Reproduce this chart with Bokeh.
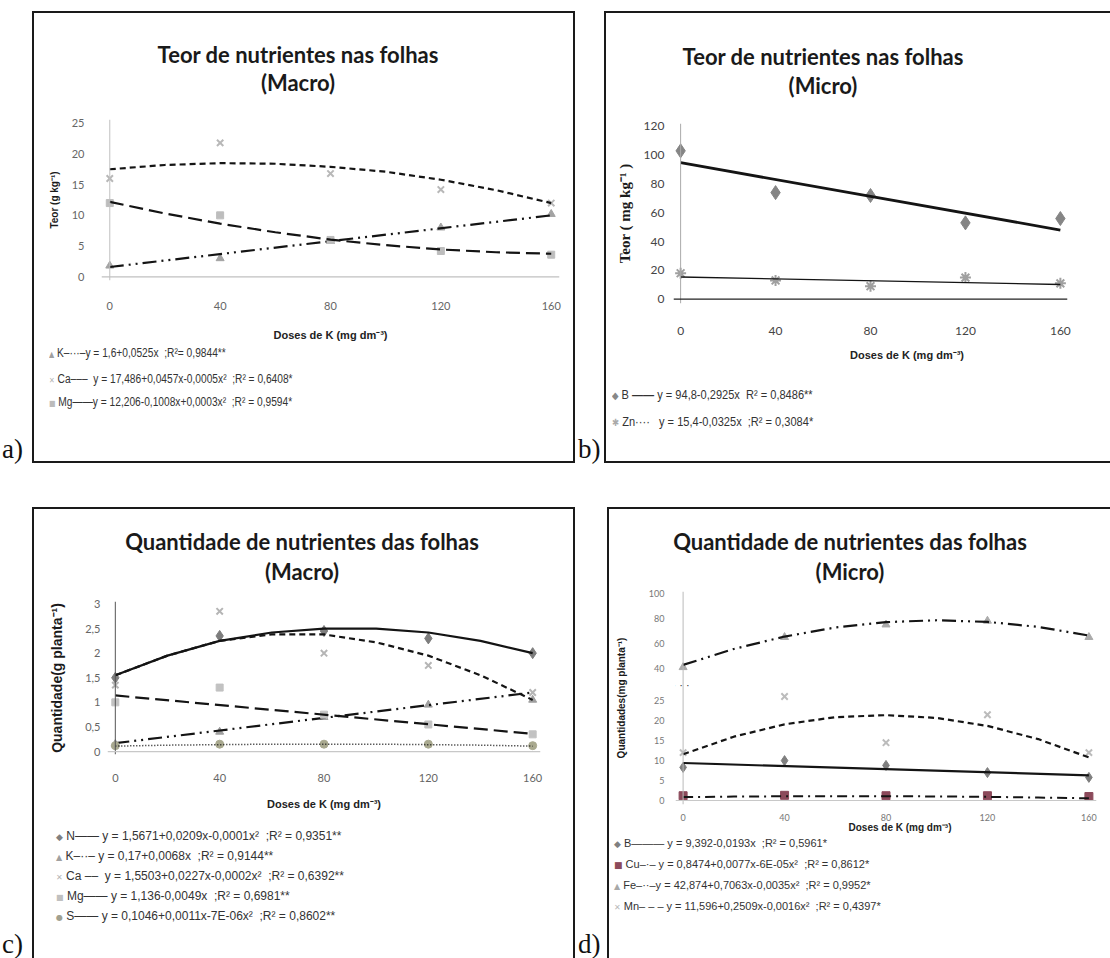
from bokeh.plotting import figure
from bokeh.layouts import row, column
from bokeh.models import (ColumnDataSource, Span, FixedTicker, Range1d, CustomJSTransform,
                          CustomJSTickFormatter, Label, Div, Spacer)
from bokeh.transform import transform
from bokeh.embed import file_html
from bokeh.resources import INLINE

# ---------------- data ----------------
doses = [0, 40, 80, 120, 160]
curve_x = [0, 20, 40, 60, 80, 100, 120, 140, 160]
line_x = [0, 160]
x_ticks = [0, 40, 80, 120, 160]

# a) Teor macro (g kg-1)
a_K = [1.8, 3.0, 5.8, 8.0, 10.2]
a_Ca = [16.0, 21.8, 16.8, 14.2, 12.0]
a_Mg = [12.0, 10.0, 6.0, 4.2, 3.6]
a_K_fit = [1.6, 10.0]
a_Ca_fit = [17.5, 18.2, 18.5, 18.4, 17.9, 17.1, 15.8, 14.1, 12.0]
a_Mg_fit = [12.2, 10.3, 8.65, 7.25, 6.05, 5.15, 4.45, 4.0, 3.75]
a_yticks = [0, 5, 10, 15, 20, 25]
a_legend = ["K\u2013\u00b7\u00b7\u00b7\u2013y = 1,6+0,0525x &nbsp;;R\u00b2= 0,9844**",
            "Ca\u2013\u2013\u2013 &nbsp;y = 17,486+0,0457x-0,0005x\u00b2 &nbsp;;R\u00b2 = 0,6408*",
            "Mg\u2014\u2014y = 12,206-0,1008x+0,0003x\u00b2 &nbsp;;R\u00b2 = 0,9594*"]

# b) Teor micro (mg kg-1)
b_B = [103, 74, 72, 53, 56]
b_Zn = [18, 13, 9, 15, 11]
b_B_fit = [94.8, 48.0]
b_Zn_fit = [15.4, 10.2]
b_yticks = [0, 20, 40, 60, 80, 100, 120]
b_legend = ["B <b>\u2014\u2014</b> y = 94,8-0,2925x &nbsp;R\u00b2 = 0,8486**",
            "Zn\u00b7\u00b7\u00b7\u00b7 &nbsp; y = 15,4-0,0325x &nbsp;;R\u00b2 = 0,3084*"]

# c) Quantidade macro (g planta-1)
c_N = [1.5, 2.35, 2.45, 2.3, 2.0]
c_K = [0.15, 0.4, 0.7, 0.95, 1.05]
c_Ca = [1.35, 2.85, 2.0, 1.75, 1.2]
c_Mg = [1.0, 1.3, 0.75, 0.55, 0.35]
c_S = [0.12, 0.15, 0.15, 0.15, 0.12]
c_N_fit = [1.55, 1.95, 2.25, 2.42, 2.5, 2.5, 2.42, 2.25, 2.0]
c_K_fit = [0.17, 1.2]
c_Ca_fit = [1.55, 1.95, 2.25, 2.38, 2.38, 2.22, 1.95, 1.55, 1.05]
c_Mg_fit = [1.14, 0.36]
c_S_fit = [0.11, 0.13, 0.14, 0.15, 0.15, 0.15, 0.14, 0.13, 0.11]
c_yticks = [0, 0.5, 1, 1.5, 2, 2.5, 3]
c_legend = ["N\u2014\u2014 y = 1,5671+0,0209x-0,0001x\u00b2 &nbsp;;R\u00b2 = 0,9351**",
            "K\u2013\u00b7\u00b7\u2013 y = 0,17+0,0068x &nbsp;;R\u00b2 = 0,9144**",
            "Ca \u2013\u2013 &nbsp;y = 1,5503+0,0227x-0,0002x\u00b2 &nbsp;;R\u00b2 = 0,6392**",
            "Mg\u2014\u2014 y = 1,136-0,0049x &nbsp;;R\u00b2 = 0,6981**",
            "S\u2014\u2014 y = 0,1046+0,0011x-7E-06x\u00b2 &nbsp;;R\u00b2 = 0,8602**"]

# d) Quantidade micro (mg planta-1)
d_B = [8.3, 10.0, 8.8, 7.0, 5.8]
d_Cu = [1.2, 1.3, 1.2, 1.2, 1.0]
d_Fe = [41, 65, 75, 78, 65]
d_Mn = [12, 27, 14.5, 21.5, 12]
d_B_fit = [9.4, 6.3]
d_Cu_fit = [0.85, 0.98, 1.06, 1.09, 1.08, 1.02, 0.91, 0.75, 0.55]
d_Fe_fit = [42.9, 55.6, 65.5, 72.7, 77.0, 78.5, 77.2, 73.2, 66.3]
d_Mn_fit = [11.6, 16.0, 19.1, 20.9, 21.4, 20.7, 18.7, 15.4, 10.8]
d_yticks = [0, 5, 10, 15, 20, 25, 40, 60, 80, 100]
d_legend = ["B\u2014\u2014\u2014 y = 9,392-0,0193x &nbsp;;R\u00b2 = 0,5961*",
            "Cu\u2013\u00b7\u2013 y = 0,8474+0,0077x-6E-05x\u00b2 &nbsp;;R\u00b2 = 0,8612*",
            "Fe\u2013\u00b7\u00b7\u2013y = 42,874+0,7063x-0,0035x\u00b2 &nbsp;;R\u00b2 = 0,9952*",
            "Mn\u2013 \u2013 \u2013 y = 11,596+0,2509x-0,0016x\u00b2 &nbsp;;R\u00b2 = 0,4397*"]

X_LABEL = "Doses de K (mg dm\u207b\u00b3)"

# axis break of panel d (values between 25 and 40 compressed)
BRK_LO, BRK_HI, BRK_K1, BRK_K2 = 25.0, 40.0, 0.539, 0.3145

# ---------------- styles ----------------
LINE = "#141414"
BORDER = "2px solid #1a1a1a"
TICK_FONT = "Lato"
AX_FONT = "'Liberation Sans', Arial, sans-serif"
DASH_SHORT = "6 4"
DASH_LONG = "14 6"
DASH_DDOT = "14 5 2 5 2 5"
DASH_DOT = "10 5 2 5"
DASH_DOTTED = "1 2"


def make_fig(W, H, fl, fr, ft, fb, xr, yr):
    p = figure(width=W, height=H, x_range=Range1d(*xr), y_range=Range1d(*yr),
               output_backend="svg", toolbar_location=None, title=None,
               min_border_left=fl, min_border_right=fr, min_border_top=ft,
               min_border_bottom=fb, margin=0)
    p.outline_line_color = None
    p.grid.visible = False
    p.background_fill_color = "white"
    p.border_fill_color = "white"
    return p


def style_axes(p, yticks, tick_size, tick_color, ylabel, ylab_font, ylab_size,
               ylab_standoff, y_standoff, x_standoff, xlab_size=None, xlab_standoff=0,
               xaxis_color="#c0c0c0", yaxis_color="#c0c0c0", formatter=None):
    xa, ya = p.xaxis[0], p.yaxis[0]
    xa.ticker = FixedTicker(ticks=x_ticks)
    ya.ticker = FixedTicker(ticks=yticks)
    if formatter is not None:
        ya.formatter = formatter
    for ax in (xa, ya):
        ax.axis_line_color = None
        ax.major_tick_line_color = None
        ax.minor_tick_line_color = None
        ax.major_label_text_font = TICK_FONT
        ax.major_label_text_font_size = tick_size
        ax.major_label_text_color = tick_color
    xa.major_label_standoff = x_standoff
    ya.major_label_standoff = y_standoff
    if xlab_size is not None:
        xa.axis_label = X_LABEL
        xa.axis_label_text_font = AX_FONT
        xa.axis_label_text_font_style = "bold"
        xa.axis_label_text_font_size = xlab_size
        xa.axis_label_text_color = "#222222"
        xa.axis_label_standoff = xlab_standoff
    ya.axis_label = ylabel
    ya.axis_label_text_font = ylab_font
    ya.axis_label_text_font_style = "bold"
    ya.axis_label_text_font_size = ylab_size
    ya.axis_label_text_color = "#1a1a1a"
    ya.axis_label_standoff = ylab_standoff
    p.add_layout(Span(location=0, dimension="height", line_color=yaxis_color, line_width=1))
    p.add_layout(Span(location=0, dimension="width", line_color=xaxis_color, line_width=1.2))


def series(p, ys, fx, fy, marker, msize, mcolor, dash, lw, ytr=None):
    src = ColumnDataSource(dict(x=doses, y=ys))
    fsrc = ColumnDataSource(dict(x=fx, y=fy))
    yspec = transform("y", ytr) if ytr is not None else "y"
    lw_m = 2 if marker in ("x", "asterisk", "cross") else 1
    p.scatter(x="x", y=yspec, source=src, marker=marker, size=msize,
              fill_color=mcolor, line_color=mcolor, line_width=lw_m)
    p.line(x="x", y=yspec, source=fsrc, line_color=LINE, line_width=lw, line_dash=dash)


def title_div(w, h, cx, y1, y2, line1, line2):
    def one(t, y):
        return ('<div style="position:absolute;left:%dpx;width:600px;top:%dpx;height:28px;'
                'line-height:28px;text-align:center;white-space:nowrap">%s</div>' % (cx - 300, y - 14, t))
    html = ('<div style="position:relative;width:%dpx;height:%dpx;overflow:visible;'
            'font-family:Lato,sans-serif;font-weight:bold;font-size:22px;color:#1a1a1a">%s%s</div>'
            % (w, h, one(line1, y1), one(line2, y2)))
    return Div(text=html, width=w, height=h, margin=0)


def legend_div(w, h, x0, rows, font_size, scale, xlabel=None):
    parts = []
    if xlabel is not None:
        xc, yc, fs = xlabel
        parts.append('<div style="position:absolute;left:%dpx;width:300px;top:%dpx;height:14px;'
                     'line-height:14px;text-align:center;white-space:nowrap;font-family:%s;'
                     'font-weight:bold;font-size:%dpx;color:#222">%s</div>'
                     % (xc - 150, yc - 7, AX_FONT.replace("'", "&#39;"), fs, X_LABEL))
    for (yc, sym, scol, ssize, label) in rows:
        parts.append('<div style="position:absolute;left:%dpx;top:%dpx;height:16px;line-height:16px;'
                     'white-space:nowrap;font-family:&#39;Liberation Sans&#39;,Arial,sans-serif;'
                     'font-size:%dpx;color:#333;transform:scaleX(%.2f);transform-origin:0 50%%">'
                     '<span style="color:%s;font-family:&#39;DejaVu Sans&#39;,sans-serif;font-size:%dpx">%s</span>'
                     '&nbsp;%s</div>' % (x0, yc - 8, font_size, scale, scol, ssize, sym, label))
    html = ('<div style="position:relative;width:%dpx;height:%dpx;overflow:visible">%s</div>'
            % (w, h, "".join(parts)))
    return Div(text=html, width=w, height=h, margin=0)


def tag(txt, w, h, pad):
    html = ('<div style="height:%dpx;width:%dpx;display:flex;align-items:flex-end;'
            'font-family:&#39;Liberation Serif&#39;,serif;font-size:27px;line-height:27px;'
            'color:#111;padding-left:%dpx;box-sizing:border-box">%s</div>' % (h, w, pad, txt))
    return Div(text=html, width=w, height=h, margin=0)


def boxed(children, w, h, sides):
    styles = {"border-" + s: BORDER for s in sides}
    styles["background-color"] = "white"
    return column(children, width=w, height=h, styles=styles, spacing=0)


TRI, XM, SQ, DIA, AST, CIR = "\u25b2", "\u2715", "\u25a0", "\u25c6", "\u2731", "\u25cf"

# ---------------- panel a ----------------
pa = make_fig(539, 243, 67, 14, 19, 62, (-3, 163), (-0.6, 25.6))
style_axes(pa, a_yticks, "11px", "#666666", "Teor (g kg\u207b\u00b9)", AX_FONT, "10px", 9, 11, 15,
           xlab_size="11px", xlab_standoff=16)
series(pa, a_K, line_x, a_K_fit, "triangle", 8, "#a3a3a3", DASH_DDOT, 2.2)
series(pa, a_Ca, curve_x, a_Ca_fit, "x", 9, "#b8b8b8", DASH_SHORT, 2.2)
series(pa, a_Mg, curve_x, a_Mg_fit, "square", 7, "#bdbdbd", DASH_LONG, 2.2)
ta = title_div(539, 87, 264, 42, 70, "Teor de nutrientes nas folhas", "(Macro)")
la = legend_div(539, 118, 15, [(10, TRI, "#a0a0a0", 8, a_legend[0]),
                               (36, XM, "#b5b5b5", 8, a_legend[1]),
                               (59, SQ, "#bbbbbb", 8, a_legend[2])], 12, 0.85)
box_a = boxed([ta, pa, la], 543, 452, ["left", "top", "right", "bottom"])

# ---------------- panel b ----------------
pb = make_fig(504, 235, 67, 43, 18, 37, (-3, 163), (-3, 122))
style_axes(pb, b_yticks, "12px", "#444444", "Teor ( mg kg\u207b\u00b9 )",
           "'Liberation Serif', serif", "15px", 8, 3, 17,
           xaxis_color="#222222", yaxis_color="#aaaaaa")
series(pb, b_B, line_x, b_B_fit, "diamond", 14, "#858585", "solid", 2.8)
series(pb, b_Zn, line_x, b_Zn_fit, "asterisk", 11, "#a0a0a0", "solid", 1.3)
tb = title_div(504, 92, 217, 44, 73, "Teor de nutrientes nas folhas", "(Micro)")
lb = legend_div(504, 121, 6, [(55, DIA, "#888888", 10, b_legend[0]),
                              (82, AST, "#aaaaaa", 10, b_legend[1])], 13, 0.85,
                xlabel=(301, 15, 11))
box_b = boxed([tb, pb, lb], 506, 452, ["left", "top", "bottom"])

# ---------------- panel c ----------------
pc = make_fig(539, 220, 73, 33, 9, 57, (-3, 163), (-0.06, 3.05))
c_fmt = CustomJSTickFormatter(code="return tick.toString().replace('.', ',');")
style_axes(pc, c_yticks, "11px", "#666666", "Quantidade(g planta\u207b\u00b9)", AX_FONT, "14px", 17, 1, 13,
           xlab_size="11px", xlab_standoff=13, xaxis_color="#c8c8c8", yaxis_color="#555555",
           formatter=c_fmt)
series(pc, c_N, curve_x, c_N_fit, "diamond", 11, "#7d7d7d", "solid", 2.2)
series(pc, c_K, line_x, c_K_fit, "triangle", 8, "#9f9f9f", DASH_DDOT, 2.2)
series(pc, c_Ca, curve_x, c_Ca_fit, "x", 9, "#b5b5b5", DASH_SHORT, 2.2)
series(pc, c_Mg, line_x, c_Mg_fit, "square", 7, "#c2c2c2", DASH_LONG, 2.2)
series(pc, c_S, curve_x, c_S_fit, "circle", 8, "#a9a98f", DASH_DOTTED, 1.5)
tc = title_div(539, 83, 268, 33, 63, "Quantidade de nutrientes das folhas", "(Macro)")
lc = legend_div(539, 146, 22, [(24, DIA, "#808080", 9, c_legend[0]),
                               (44, TRI, "#a0a0a0", 8, c_legend[1]),
                               (64, XM, "#b5b5b5", 8, c_legend[2]),
                               (84, SQ, "#c0c0c0", 8, c_legend[3]),
                               (104, CIR, "#a0a090", 8, c_legend[4])], 12, 1.0)
box_c = boxed([tc, pc, lc], 543, 451, ["left", "top", "right"])

# ---------------- panel d (broken y axis) ----------------
brk_js = ("if (x <= lo) return x; if (x < hi) return lo + (x - lo) * k1;"
          " return lo + (hi - lo) * k1 + (x - hi) * k2;")
brk_vjs = ("const out = new Float64Array(xs.length);"
           "for (let i = 0; i < xs.length; i++) { const x = xs[i];"
           " out[i] = x <= lo ? x : (x < hi ? lo + (x - lo) * k1 : lo + (hi - lo) * k1 + (x - hi) * k2); }"
           " return out;")
brk = CustomJSTransform(args=dict(lo=BRK_LO, hi=BRK_HI, k1=BRK_K1, k2=BRK_K2),
                        func=brk_js, v_func=brk_vjs)


def brk_py(v):
    if v <= BRK_LO:
        return v
    if v < BRK_HI:
        return BRK_LO + (v - BRK_LO) * BRK_K1
    return BRK_LO + (BRK_HI - BRK_LO) * BRK_K1 + (v - BRK_HI) * BRK_K2


d_fmt = CustomJSTickFormatter(args=dict(lo=BRK_LO, hi=BRK_HI, k1=BRK_K1, k2=BRK_K2), code="""
    const m = lo + (hi - lo) * k1;
    let v = tick <= lo ? tick : (tick < m ? lo + (tick - lo) / k1 : hi + (tick - m) / k2);
    return Math.round(v).toString();
""")
pd_ = make_fig(501, 238, 66, 14, 6, 14, (-3, 163), (-1, 52.4))
style_axes(pd_, [brk_py(v) for v in d_yticks], "9px", "#777777", "Quantidades(mg planta\u207b\u00b9)",
           AX_FONT, "10px", 19, 5, 3, xaxis_color="#c8c8c8", yaxis_color="#bbbbbb",
           formatter=d_fmt)
series(pd_, d_B, line_x, d_B_fit, "diamond", 10, "#7f7f7f", "solid", 2.2, brk)
series(pd_, d_Cu, curve_x, d_Cu_fit, "square", 8, "#8c4a5b", DASH_DOT, 2.0, brk)
series(pd_, d_Fe, curve_x, d_Fe_fit, "triangle", 8, "#ababab", DASH_DDOT, 2.2, brk)
series(pd_, d_Mn, curve_x, d_Mn_fit, "x", 9, "#bcbcbc", DASH_SHORT, 2.2, brk)
pd_.add_layout(Label(x=0, y=brk_py(32.5), text="\u00b7 \u00b7 \u00b7", text_font=AX_FONT,
                     text_font_size="11px", text_color="#333333", text_align="center",
                     text_baseline="middle", x_offset=-2))
td = title_div(501, 76, 241, 33, 63, "Quantidade de nutrientes das folhas", "(Micro)")
ld = legend_div(501, 135, 5, [(20, DIA, "#808080", 9, d_legend[0]),
                              (41, SQ, "#8c4a5b", 9, d_legend[1]),
                              (62, TRI, "#a8a8a8", 8, d_legend[2]),
                              (83, XM, "#b8b8b8", 8, d_legend[3])], 11, 1.0,
                xlabel=(291, 5, 10))
box_d = boxed([td, pd_, ld], 503, 451, ["left", "top"])

row1 = row(tag("a)", 32, 452, 2), box_a, tag("b)", 29, 452, 3), box_b, spacing=0)
row2 = row(tag("c)", 32, 451, 2), box_c, tag("d)", 32, 451, 3), box_d, spacing=0)
layout = column(Spacer(height=11), row1, Spacer(height=44), row2, spacing=0)
open("out.html", "w").write(file_html(layout, INLINE))
